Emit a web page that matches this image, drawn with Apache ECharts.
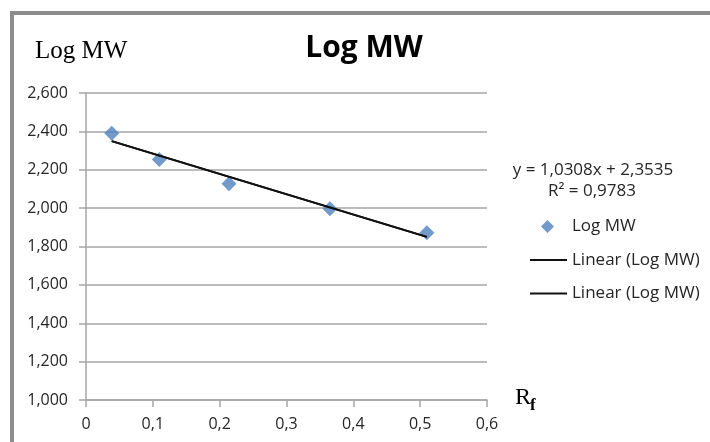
<!DOCTYPE html>
<html>
<head>
<meta charset="utf-8">
<script src="https://cdn.jsdelivr.net/npm/echarts@6/dist/echarts.min.js"></script>
<style>
html,body{margin:0;padding:0;background:#fff;}
#chart{width:710px;height:442px;}
</style>
</head>
<body>
<div id="chart"></div>
<script>
// Data
const rfValues = [0.0385, 0.1097, 0.214, 0.365, 0.510];
const logMW = [2.390, 2.254, 2.127, 1.997, 1.872];
// Trendline endpoints as drawn
const trendX = [0.0385, 0.510];
const trendY = [2.349, 1.850];
const equationText = 'y = 1,0308x + 2,3535';
const r2Text = 'R² = 0,9783';
const seriesName = 'Log MW';
const trendName1 = 'Linear (Log MW)';
const trendName2 = 'Linear (Log MW) ';

const scatterData = rfValues.map((x, i) => [x, logMW[i]]);
const trendData = trendX.map((x, i) => [x, trendY[i]]);

const FONT = 'Open Sans';
// diamond legend icon padded to the 37x13 legend box so it is not stretched
const DIAMOND_ICON = 'path://M0,0M37,13M11,6.5L17.5,0L24,6.5L17.5,13Z';
const chart = echarts.init(document.getElementById('chart'));
chart.setOption({
  animation: false,
  backgroundColor: '#fff',
  grid: {left: 86, top: 93, right: 223, bottom: 42, containLabel: false},
  xAxis: {
    type: 'value', min: 0, max: 0.6, interval: 0.1,
    axisLine: {show: true, lineStyle: {color: '#a6a6a6', width: 1.5}},
    axisTick: {show: true, length: 7, lineStyle: {color: '#a6a6a6', width: 1.5}},
    splitLine: {show: false},
    axisLabel: {
      margin: 16, color: '#262626', fontFamily: FONT, fontSize: 16,
      formatter: v => v === 0 ? '0' : v.toFixed(1).replace('.', ',')
    }
  },
  yAxis: {
    type: 'value', min: 1, max: 2.6, interval: 0.2,
    axisLine: {show: true, lineStyle: {color: '#a6a6a6', width: 1.5}},
    axisTick: {show: true, length: 7, lineStyle: {color: '#a6a6a6', width: 1.5}},
    splitLine: {show: true, lineStyle: {color: '#a6a6a6', width: 1.5}},
    axisLabel: {
      margin: 18, color: '#262626', fontFamily: FONT, fontSize: 16,
      formatter: v => v.toFixed(3).replace('.', ',')
    }
  },
  legend: {
    orient: 'vertical', left: 529, top: 218, itemGap: 16.5, padding: 0,
    itemWidth: 37, itemHeight: 13,
    textStyle: {fontFamily: FONT, fontSize: 17, color: '#262626'},
    data: [
      {name: seriesName, icon: DIAMOND_ICON},
      {name: trendName1, itemStyle: {opacity: 0}},
      {name: trendName2, itemStyle: {opacity: 0}}
    ]
  },
  series: [
    {
      name: trendName1, type: 'line', data: trendData, symbol: 'none',
      lineStyle: {color: '#111', width: 2}, itemStyle: {color: '#111'}, z: 3
    },
    {
      name: trendName2, type: 'line', data: trendData, symbol: 'none',
      lineStyle: {color: '#111', width: 2}, itemStyle: {color: '#111'}, z: 3
    },
    {
      name: seriesName, type: 'scatter', data: scatterData,
      symbol: 'diamond', symbolSize: 15,
      itemStyle: {color: '#4f81bd'}, z: 2
    }
  ],
  graphic: [
    {type: 'rect', shape: {x: 12, y: 13, width: 740, height: 460}, style: {fill: 'none', stroke: '#8c8c8c', lineWidth: 4}, silent: true},
    {type: 'text', x: 364, y: 48, style: {text: 'Log MW', fontFamily: FONT, fontWeight: 'bold', fontSize: 30, fill: '#000', align: 'center', verticalAlign: 'middle'}},
    {type: 'text', x: 35, y: 51, style: {text: 'Log MW', fontFamily: 'Liberation Serif', fontSize: 25, fill: '#000', verticalAlign: 'middle'}},
    {type: 'text', x: 515, y: 398, style: {text: 'R', fontFamily: 'Liberation Serif', fontSize: 24, fill: '#000', verticalAlign: 'middle'}},
    {type: 'text', x: 530, y: 406, style: {text: 'f', fontFamily: 'Liberation Serif', fontSize: 17, fontWeight: 'bold', fill: '#000', verticalAlign: 'middle'}},
    {type: 'text', x: 593, y: 170, style: {text: equationText, fontFamily: FONT, fontSize: 17, fill: '#262626', align: 'center', verticalAlign: 'middle'}},
    {type: 'text', x: 592, y: 191, style: {text: r2Text, fontFamily: FONT, fontSize: 17, fill: '#262626', align: 'center', verticalAlign: 'middle'}}
  ]
});
</script>
</body>
</html>
